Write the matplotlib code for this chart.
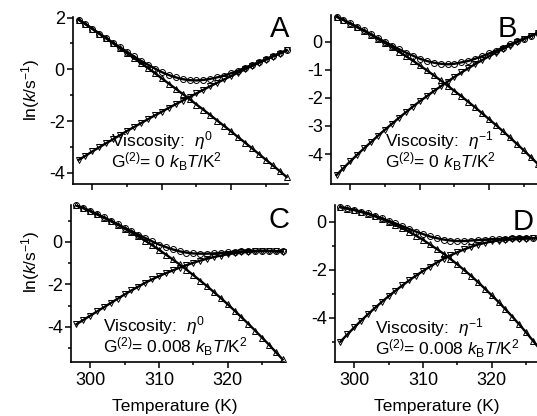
import matplotlib.pyplot as plt
from matplotlib.ticker import MultipleLocator, FixedLocator
import numpy as np

plt.rcParams['font.family'] = ['Liberation Sans', 'DejaVu Sans']
plt.rcParams['mathtext.fontset'] = 'custom'
plt.rcParams['mathtext.rm'] = 'Liberation Sans'
plt.rcParams['mathtext.it'] = 'Liberation Sans:italic'
plt.rcParams['mathtext.bf'] = 'Liberation Sans:bold'

temps = list(range(298, 329))

# panel A: viscosity eta^0, G2 = 0
a_up = [1.92, 1.74, 1.56, 1.37, 1.19, 1.00, 0.81, 0.62, 0.43, 0.24, 0.05, -0.15, -0.35, -0.55, -0.75, -0.95,
        -1.15, -1.36, -1.56, -1.77, -1.98, -2.19, -2.40, -2.62, -2.83, -3.05, -3.27, -3.49, -3.71, -3.93, -4.16]
a_down = [-3.50, -3.34, -3.17, -3.01, -2.85, -2.70, -2.54, -2.38, -2.23, -2.08, -1.93, -1.78, -1.64, -1.49, -1.35, -1.21,
          -1.07, -0.93, -0.79, -0.65, -0.52, -0.39, -0.26, -0.13, 0.00, 0.13, 0.25, 0.37, 0.49, 0.61, 0.73]
a_obs = [1.92, 1.75, 1.57, 1.38, 1.21, 1.02, 0.85, 0.67, 0.50, 0.33, 0.18, 0.03, -0.11, -0.22, -0.31, -0.38,
         -0.42, -0.43, -0.41, -0.37, -0.31, -0.24, -0.15, -0.05, 0.06, 0.17, 0.28, 0.39, 0.51, 0.62, 0.74]

# panel B: viscosity eta^-1, G2 = 0
b_up = [0.90, 0.78, 0.65, 0.52, 0.39, 0.25, 0.10, -0.04, -0.19, -0.35, -0.51, -0.67, -0.84, -1.01, -1.19, -1.37,
        -1.56, -1.75, -1.94, -2.14, -2.34, -2.55, -2.76, -2.97, -3.19, -3.41, -3.64, -3.87, -4.11, -4.35, -4.59]
b_down = [-4.75, -4.50, -4.26, -4.02, -3.79, -3.57, -3.34, -3.13, -2.92, -2.71, -2.51, -2.31, -2.12, -1.94, -1.76, -1.59,
          -1.42, -1.25, -1.09, -0.94, -0.79, -0.65, -0.51, -0.38, -0.25, -0.13, -0.01, 0.10, 0.21, 0.31, 0.41]
b_obs = [0.90, 0.79, 0.66, 0.53, 0.41, 0.27, 0.13, 0.00, -0.13, -0.26, -0.38, -0.49, -0.60, -0.68, -0.74, -0.78,
         -0.80, -0.78, -0.73, -0.68, -0.60, -0.51, -0.41, -0.31, -0.20, -0.09, 0.02, 0.12, 0.22, 0.32, 0.42]

# panel C: viscosity eta^0, G2 = 0.008
c_up = [1.72, 1.59, 1.45, 1.30, 1.14, 0.98, 0.81, 0.63, 0.45, 0.26, 0.06, -0.15, -0.37, -0.59, -0.82, -1.06,
        -1.30, -1.56, -1.82, -2.08, -2.36, -2.64, -2.93, -3.23, -3.54, -3.85, -4.17, -4.50, -4.83, -5.18, -5.53]
c_down = [-3.87, -3.67, -3.47, -3.27, -3.07, -2.87, -2.67, -2.47, -2.28, -2.10, -1.92, -1.76, -1.61, -1.47, -1.34, -1.21,
          -1.09, -0.98, -0.88, -0.79, -0.71, -0.64, -0.58, -0.53, -0.49, -0.46, -0.44, -0.43, -0.43, -0.44, -0.45]
c_obs = [1.72, 1.60, 1.46, 1.31, 1.16, 1.00, 0.84, 0.67, 0.51, 0.35, 0.19, 0.03, -0.12, -0.24, -0.35, -0.44,
         -0.50, -0.54, -0.55, -0.55, -0.54, -0.51, -0.49, -0.47, -0.44, -0.43, -0.42, -0.41, -0.42, -0.43, -0.44]

# panel D: viscosity eta^-1, G2 = 0.008
d_up = [0.60, 0.54, 0.48, 0.40, 0.32, 0.22, 0.11, -0.01, -0.14, -0.28, -0.43, -0.59, -0.76, -0.95, -1.14, -1.34,
        -1.56, -1.78, -2.02, -2.26, -2.52, -2.79, -3.07, -3.35, -3.65, -3.96, -4.28, -4.61, -4.96, -5.31, -5.67]
d_down = [-5.00, -4.70, -4.41, -4.13, -3.86, -3.60, -3.35, -3.11, -2.88, -2.66, -2.45, -2.25, -2.06, -1.88, -1.71, -1.55,
          -1.41, -1.28, -1.16, -1.05, -0.96, -0.89, -0.83, -0.79, -0.76, -0.74, -0.72, -0.71, -0.70, -0.69, -0.69]
d_obs = [0.60, 0.55, 0.49, 0.41, 0.34, 0.24, 0.14, 0.03, -0.08, -0.19, -0.31, -0.42, -0.52, -0.62, -0.69, -0.75,
         -0.79, -0.81, -0.81, -0.79, -0.77, -0.75, -0.73, -0.72, -0.71, -0.70, -0.69, -0.69, -0.69, -0.68, -0.68]

letters = ['A', 'B', 'C', 'D']
viscosity = [r'Viscosity:  $\eta^{0}$', r'Viscosity:  $\eta^{-1}$', r'Viscosity:  $\eta^{0}$', r'Viscosity:  $\eta^{-1}$']
g2_text = [r'G$^{(2)}$= 0 $k_{\mathrm{B}}T$/K$^{2}$', r'G$^{(2)}$= 0 $k_{\mathrm{B}}T$/K$^{2}$',
           r'G$^{(2)}$= 0.008 $k_{\mathrm{B}}T$/K$^{2}$', r'G$^{(2)}$= 0.008 $k_{\mathrm{B}}T$/K$^{2}$']

W, H = 537, 416
fig = plt.figure(figsize=(W / 100, H / 100), dpi=100)


def px_axes(left, top, right, bottom):
    return fig.add_axes([left / W, 1 - bottom / H, (right - left) / W, (bottom - top) / H])


axA = px_axes(73, 17, 288, 184)
axB = px_axes(331, 15, 546, 184)
axC = px_axes(71, 205, 284, 362)
axD = px_axes(335, 205, 548, 362)
axes = [axA, axB, axC, axD]

series = [(a_up, a_down, a_obs), (b_up, b_down, b_obs), (c_up, c_down, c_obs), (d_up, d_down, d_obs)]
ylims = [(-4.43, 2.02), (-5.07, 0.96), (-5.65, 1.74), (-5.85, 0.69)]
yticks = [[2, 0, -2, -4], [0, -1, -2, -3, -4], [0, -2, -4], [0, -2, -4]]
yminor = [[1, -1, -3], [], [1, -1, -3, -5], [-1, -3, -5]]

for i, ax in enumerate(axes):
    up, down, obs = series[i]
    for vals, mk in [(up, '^'), (down, 'v'), (obs, 'o')]:
        ax.plot(temps, vals, color='black', lw=1.7, zorder=2)
        ax.plot(temps, vals, ls='none', marker=mk, ms=4.3, mfc='none', mec='black', mew=0.7,
                zorder=3, clip_on=False)
    ax.set_xlim(297.2, 328.2)
    ax.set_ylim(*ylims[i])
    ax.xaxis.set_major_locator(MultipleLocator(10))
    ax.xaxis.set_minor_locator(MultipleLocator(5))
    ax.yaxis.set_major_locator(FixedLocator(yticks[i]))
    ax.yaxis.set_minor_locator(FixedLocator(yminor[i]))
    for s in ['top', 'right']:
        ax.spines[s].set_visible(False)
    for s in ['left', 'bottom']:
        ax.spines[s].set_linewidth(1.2)
    ax.tick_params(which='major', direction='out', length=4.5, width=1.1, labelsize=13, pad=1.5)
    ax.tick_params(which='minor', direction='out', length=2.5, width=1.1)
    ax.tick_params(axis='x', pad=3)
    ax.yaxis.set_major_formatter(plt.FuncFormatter(lambda v, p: f'{v:.0f}'.replace('\u2212', '-')))
    if i < 2:
        ax.tick_params(axis='x', labelbottom=False)

# panel letters
for (x, y), s in zip([(289, 37), (517, 37), (289, 228), (534, 230)], letters):
    fig.text(x / W, 1 - y / H, s, fontsize=21, ha='right', va='baseline')

# annotations: two lines in one text block, placed by the baseline of the second line
pos = [(111, 168), (385, 168), (103, 353), (375, 355)]
for k in range(4):
    fig.text(pos[k][0] / W, 1 - pos[k][1] / H, viscosity[k] + '\n' + g2_text[k],
             fontsize=12.5, va='baseline', ha='left', multialignment='left', linespacing=0.92)

# axis labels
for yc in [90, 262]:
    fig.text(31 / W, 1 - yc / H, r'ln($k$/s$^{-1}$)', rotation=90, fontsize=12.5, ha='center', va='center')
for xc in [175, 437]:
    fig.text(xc / W, 1 - 407 / H, 'Temperature (K)', fontsize=12.5, ha='center', va='center')

fig.savefig('out.png', dpi=100)
